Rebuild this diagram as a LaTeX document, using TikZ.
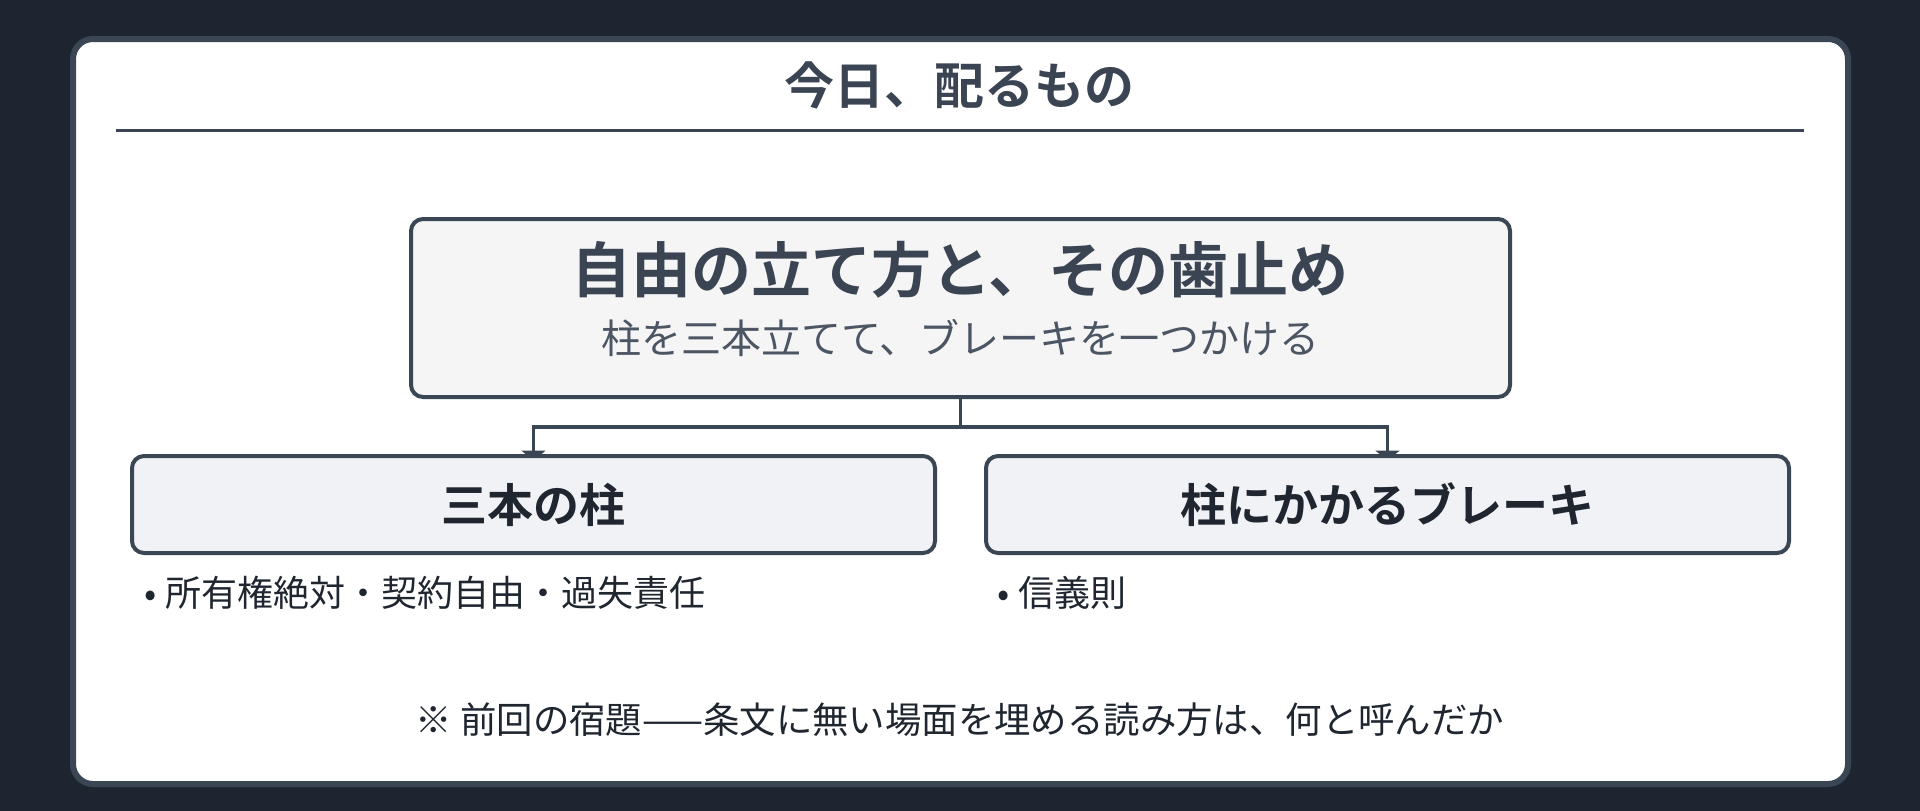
\documentclass[tikz,border=0pt]{standalone}
\usepackage{fontspec}
\setmainfont{Noto Sans CJK JP}[BoldFont={Noto Sans CJK JP Bold}]
\usetikzlibrary{arrows.meta}
\definecolor{bgdark}{HTML}{1E2530}
\definecolor{edge}{HTML}{3B4654}
\definecolor{slate}{HTML}{3B4452}
\definecolor{subslate}{HTML}{4B5563}
\definecolor{ink}{HTML}{1F2630}
\definecolor{mainfill}{HTML}{F5F5F6}
\definecolor{childfill}{HTML}{F0F2F5}
\pgfdeclarelayer{bg}
\pgfdeclarelayer{mid}
\pgfsetlayers{bg,mid,main}
\tikzset{
  mainbox/.style={draw=edge, line width=4pt, fill=mainfill, rounded corners=12pt,
    minimum width=1099pt, minimum height=178pt, inner sep=0pt},
  childbox/.style={draw=edge, line width=4pt, fill=childfill, rounded corners=12pt,
    minimum width=803pt, minimum height=97pt, inner sep=0pt,
    font=\fontsize{46}{50}\selectfont\bfseries, text=ink},
  txt/.style={inner sep=0pt},
  conn/.style={draw=edge, line width=3.5pt},
  connarrow/.style={conn, -{Triangle[length=10pt,width=24pt]}, shorten >=-6.5pt}
}
\begin{document}
\begin{tikzpicture}[x=1pt,y=-1pt]
\useasboundingbox (0,0) rectangle (1920,811);
\begin{pgfonlayer}{bg}
  \fill[bgdark] (0,0) rectangle (1920,811);
  \draw[edge, line width=6pt, fill=white, rounded corners=20pt] (73,39) rectangle (1848,784);
\end{pgfonlayer}

\node[txt, text=slate, font=\fontsize{50}{56}\selectfont\bfseries] (title) at (959,85) {今日、配るもの};
\coordinate (ruleL) at (116,130);
\coordinate (ruleR) at (1804,130);
\draw[line width=3pt, color=slate] (ruleL) -- (ruleR);

\node[mainbox] (main) at (960.5,308) {};
\node[txt, text=slate, font=\fontsize{60}{66}\selectfont\bfseries] (maintitle) at (960,270) {自由の立て方と、その歯止め};
\node[txt, text=subslate, font=\fontsize{40}{46}\selectfont] (subtitle) at (960,338) {柱を三本立てて、ブレーキを一つかける};

\node[childbox] (left) at (533.5,504.5) {三本の柱};
\node[childbox] (right) at (1387.5,504.5) {柱にかかるブレーキ};

\coordinate (junction) at (960.5,427);
\begin{pgfonlayer}{mid}
  \draw[conn] (main.south) -- (junction);
  \draw[connarrow] (junction) -| (left.north);
  \draw[connarrow] (junction) -| (right.north);
\end{pgfonlayer}

\node[txt, anchor=west, text=ink, font=\fontsize{36}{42}\selectfont] (lbullet) at (144,593) {•\hspace{9pt}所有権絶対・契約自由・過失責任};
\node[txt, anchor=west, text=ink, font=\fontsize{36}{42}\selectfont] (rbullet) at (997,593) {•\hspace{9pt}信義則};

\node[txt, text=ink, font=\fontsize{36.4}{42}\selectfont] (footer) at (960,720) {※ 前回の宿題——条文に無い場面を埋める読み方は、何と呼んだか};
\end{tikzpicture}
\end{document}
